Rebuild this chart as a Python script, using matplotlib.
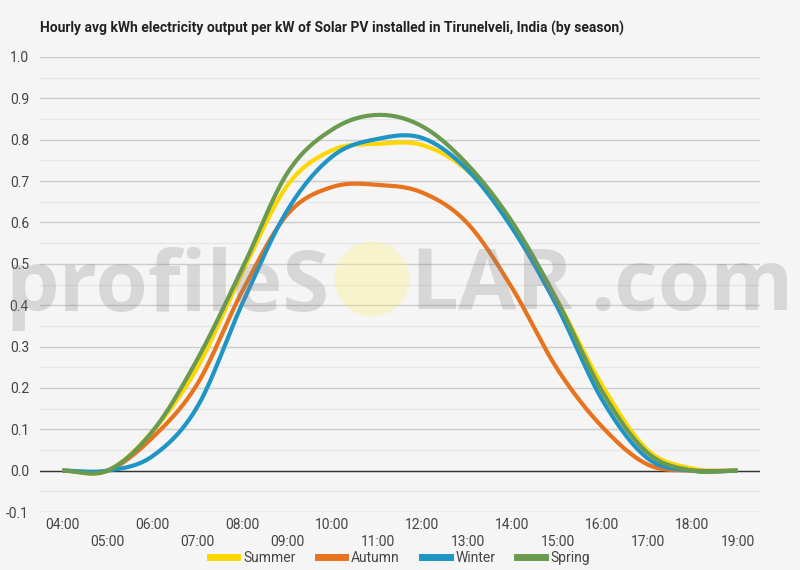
import numpy as np
import matplotlib
matplotlib.use("Agg")
import matplotlib.pyplot as plt
from matplotlib.patches import Circle
from matplotlib.lines import Line2D

# ---- data ----
hours = ["04:00", "05:00", "06:00", "07:00", "08:00", "09:00", "10:00", "11:00",
         "12:00", "13:00", "14:00", "15:00", "16:00", "17:00", "18:00", "19:00"]
summer = [0.0, 0.0, 0.095, 0.25, 0.48, 0.69, 0.775, 0.79, 0.787, 0.725, 0.595, 0.41, 0.205, 0.05, 0.005, 0.0]
autumn = [0.0, 0.0, 0.08, 0.21, 0.435, 0.62, 0.686, 0.691, 0.672, 0.598, 0.44, 0.245, 0.105, 0.015, 0.0, 0.0]
winter = [0.0, 0.0, 0.035, 0.155, 0.405, 0.63, 0.76, 0.802, 0.804, 0.727, 0.585, 0.395, 0.17, 0.03, 0.0, 0.0]
spring = [0.0, 0.0, 0.095, 0.27, 0.49, 0.72, 0.825, 0.86, 0.832, 0.74, 0.60, 0.41, 0.19, 0.043, 0.0, 0.0]
series_names = ["Summer", "Autumn", "Winter", "Spring"]
series_values = [summer, autumn, winter, spring]
series_colors = ["#FFD700", "#E8731F", "#1F95C6", "#6A9A50"]
title = "Hourly avg kWh electricity output per kW of Solar PV installed in Tirunelveli, India (by season)"


def smooth(y, n=30):
    y = np.asarray(y, float)
    N = len(y)
    m = np.zeros(N)
    m[1:-1] = (y[2:] - y[:-2]) / 2.0
    m[0] = y[1] - y[0]
    m[-1] = y[-1] - y[-2]
    xs, ys = [], []
    for i in range(N - 1):
        t = np.linspace(0, 1, n, endpoint=(i == N - 2))
        h00 = 2 * t**3 - 3 * t**2 + 1
        h10 = t**3 - 2 * t**2 + t
        h01 = -2 * t**3 + 3 * t**2
        h11 = t**3 - t**2
        xs.append(i + t)
        ys.append(h00 * y[i] + h10 * m[i] + h01 * y[i + 1] + h11 * m[i + 1])
    return np.concatenate(xs), np.concatenate(ys)


plt.rcParams['font.family'] = ['Roboto', 'DejaVu Sans']
bg = "#F5F5F5"
fig = plt.figure(figsize=(8, 5.7), dpi=100, facecolor=bg)
ax = fig.add_axes([0.05, 1 - 512 / 570, 0.90, (512 - 57) / 570])
ax.set_facecolor(bg)

x = np.arange(len(hours))
for name, vals, col in zip(series_names, series_values, series_colors):
    sx, sy = smooth(vals)
    ax.plot(sx, sy, color=col, lw=3.0, solid_capstyle='butt', zorder=3, label=name)

yt = np.round(np.arange(-0.1, 1.01, 0.1), 1)
ax.set_xlim(-0.5, len(hours) - 0.5)
ax.set_ylim(-0.1, 1.0)
ax.set_yticks(yt)
ax.set_yticklabels([f"{v:.1f}" for v in yt])
ax.set_yticks(np.arange(-0.05, 1.0, 0.1), minor=True)
ax.grid(axis='y', which='major', color='#CCCCCC', lw=1.0, zorder=0)
ax.grid(axis='y', which='minor', color='#E6E6E6', lw=1.0, zorder=0)
ax.axhline(0, color='#333333', lw=1.0, zorder=2)
ax.set_xticks(x)
ax.set_xticklabels([h if i % 2 == 0 else "\n" + h for i, h in enumerate(hours)], linespacing=1.3)
ax.tick_params(axis='both', which='both', length=0, labelsize=10, labelcolor='#444444')
ax.tick_params(axis='y', pad=8)
ax.tick_params(axis='x', pad=4)
for s in ax.spines.values():
    s.set_visible(False)

fig.text(40 / 800, 1 - 28 / 570, title, fontsize=10, fontweight='bold', color='#222222',
         va='center', ha='left')

handles = [Line2D([], [], color=c, lw=5) for c in series_colors]
fig.legend(handles, series_names, loc='center', bbox_to_anchor=(0.5, 1 - 558 / 570), ncol=4,
           frameon=False, fontsize=10, handlelength=2.0, handletextpad=0.4, columnspacing=1.6,
           labelcolor='#444444')

# watermark
wm_col = (0.5, 0.5, 0.5, 0.25)
wm_font = 'Open Sans'
fig.text(5 / 800, 1 - 311 / 570, "profileS", fontsize=61, fontweight='bold', family=wm_font,
         color=wm_col, va='baseline', ha='left', zorder=10)
circ = Circle((3.72, (570 - 279) / 100), 0.375, transform=fig.dpi_scale_trans,
              facecolor=(0.99, 0.94, 0.45, 0.30), edgecolor='none', zorder=9)
fig.add_artist(circ)
fig.text(410 / 800, 1 - 310 / 570, "LAR", fontsize=61, fontweight='bold', family=wm_font,
         color=wm_col, va='baseline', ha='left', zorder=10)
fig.text(793 / 800, 1 - 310 / 570, ".com", fontsize=61, fontweight='bold', family=wm_font,
         color=wm_col, va='baseline', ha='right', zorder=10)

fig.savefig("out.png", dpi=100, facecolor=bg)
